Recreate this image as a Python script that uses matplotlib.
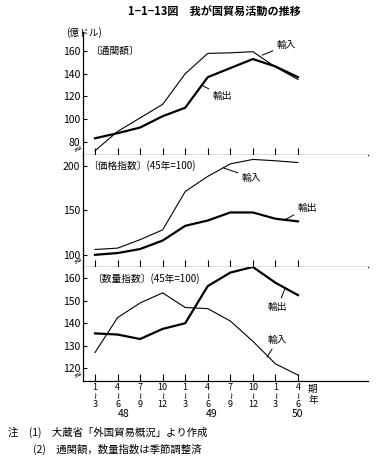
import matplotlib
matplotlib.use("Agg")
import matplotlib.pyplot as plt
import numpy as np

plt.rcParams["font.family"] = ["Noto Sans CJK JP", "DejaVu Sans"]

QUARTERS = ["1\n≀\n3", "4\n≀\n6", "7\n≀\n9", "10\n≀\n12",
            "1\n≀\n3", "4\n≀\n6", "7\n≀\n9", "10\n≀\n12",
            "1\n≀\n3", "4\n≀\n6"]
YEARS = ["48", "49", "50"]

# 通関額 (億ドル)
customs_import = [72, 89, 101, 113, 140, 158, 158.5, 159.5, 146, 135]
customs_export = [83, 87.5, 92.5, 102.5, 110, 137, 145, 153, 146.5, 137]

# 価格指数 (45年=100)
price_import = [106, 107.5, 117, 128, 171, 188, 202, 207, 205.5, 203.5]
price_export = [100, 102, 106.5, 116, 132.5, 138.5, 147.5, 147.5, 140.5, 137.5]

# 数量指数 (45年=100)
volume_import = [127, 142.5, 149, 153.5, 147, 146.5, 141, 132, 122, 117]
volume_export = [135.5, 135, 133, 137.5, 140, 156.5, 162.5, 165, 158, 152.5]

W, H = 377, 466
fig = plt.figure(figsize=(W / 100, H / 100), dpi=100)

LEFT, RIGHT = 83, 368
x = np.arange(len(QUARTERS))
XLIM = ((LEFT - 95) / 22.55, (RIGHT - 95) / 22.55)


def make_axes(top_px, bottom_px):
    ax = fig.add_axes([LEFT / W, 1 - bottom_px / H, (RIGHT - LEFT) / W,
                       (bottom_px - top_px) / H])
    for side in ("top", "right"):
        ax.spines[side].set_visible(False)
    for side in ("left", "bottom"):
        ax.spines[side].set_linewidth(0.9)
    ax.set_xlim(*XLIM)
    ax.set_xticks(x)
    ax.tick_params(axis="x", direction="in", length=5, width=0.8, labelbottom=False)
    ax.tick_params(axis="y", direction="in", length=3, width=0.8, labelsize=7.5, pad=2)
    # break mark on the axis
    ax.text(-0.015, 0.05, "≈", transform=ax.transAxes, fontsize=8,
            ha="center", va="center", rotation=30, family="DejaVu Sans")
    return ax


def annotate(ax, text, xy, xytext):
    ax.annotate(text, xy=xy, xytext=xytext, fontsize=7, ha="left", va="center",
                arrowprops=dict(arrowstyle="-", lw=0.7, color="black",
                                shrinkA=1, shrinkB=0))


THIN, THICK = 0.8, 1.6

# panel 1
ax1 = make_axes(32, 154.7)
ax1.plot(x, customs_import, color="black", lw=THIN)
ax1.plot(x, customs_export, color="black", lw=THICK)
ax1.set_ylim(68.5, 176.9)
ax1.set_yticks([80, 100, 120, 140, 160])
ax1.text(-1.3, 176, "(億ドル)", fontsize=7, va="center", ha="left")
ax1.text(-0.22, 160, "〔通関額〕", fontsize=7, va="center", ha="left")
annotate(ax1, "輸入", (7.41, 156.4), (8.07, 165.3))
annotate(ax1, "輸出", (4.75, 129.8), (5.23, 120))

# panel 2
ax2 = make_axes(154.7, 266.5)
ax2.plot(x, price_import, color="black", lw=THIN)
ax2.plot(x, price_export, color="black", lw=THICK)
ax2.set_ylim(86.9, 212.3)
ax2.set_yticks([100, 150, 200])
ax2.text(-0.31, 200, "〔価格指数〕(45年=100)", fontsize=7, va="center", ha="left")
annotate(ax2, "輸入", (5.68, 197.7), (6.52, 186.5))
annotate(ax2, "輸出", (8.43, 139.5), (9.0, 152.9))

# panel 3
ax3 = make_axes(266.5, 380.7)
ax3.plot(x, volume_import, color="black", lw=THIN)
ax3.plot(x, volume_export, color="black", lw=THICK)
ax3.set_ylim(114.5, 165.2)
ax3.set_yticks([120, 130, 140, 150, 160])
ax3.text(-0.13, 160, "〔数量指数〕(45年=100)", fontsize=7, va="center", ha="left")
annotate(ax3, "輸出", (8.43, 155.6), (7.67, 147.2))
annotate(ax3, "輸入", (7.63, 125), (7.67, 132.5))

ax3.tick_params(axis="x", labelbottom=True, labelsize=6.5, pad=2)
ax3.set_xticklabels(QUARTERS, linespacing=0.9)
for xpos, year in zip([1.29, 5.19, 8.96], YEARS):
    ax3.text(xpos, -0.29, year, transform=ax3.get_xaxis_transform(),
             fontsize=7.5, ha="center", va="center")
ax3.text(9.45, -0.12, "期\n年", transform=ax3.get_xaxis_transform(),
         fontsize=7, ha="left", va="center", linespacing=1.05)

fig.text(214 / W, 1 - 12 / H, "1−1−13図　我が国貿易活動の推移", fontsize=8,
         ha="center", va="center", fontweight="bold")
fig.text(8 / W, 1 - 432 / H, "注　(1)　大蔵省「外国貿易概況」より作成",
         fontsize=7.5, ha="left", va="center")
fig.text(33 / W, 1 - 449 / H, "(2)　通関額，数量指数は季節調整済",
         fontsize=7.5, ha="left", va="center")

fig.savefig("out.png", dpi=100, facecolor="white")
